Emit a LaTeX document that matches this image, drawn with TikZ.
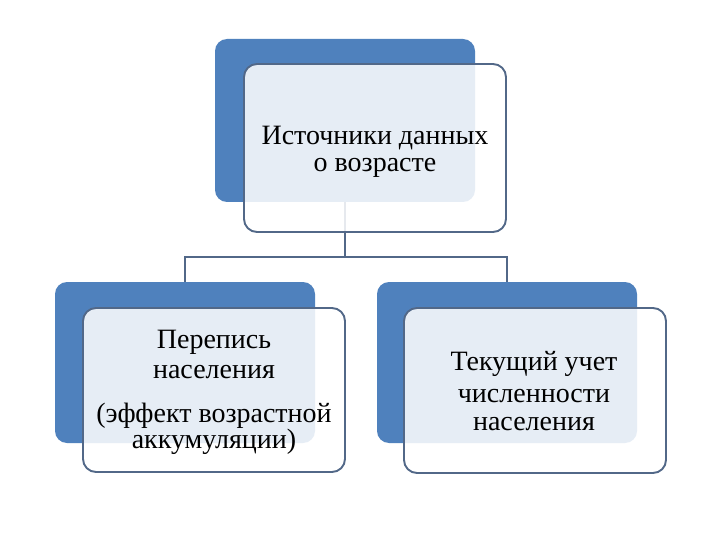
\documentclass[tikz,border=0pt]{standalone}
\usepackage{fontspec}
\setmainfont{Liberation Serif}
\definecolor{sblue}{RGB}{79,129,189}
\definecolor{sborder}{RGB}{82,104,136}
\begin{document}
\begin{tikzpicture}[x=1pt,y=-1pt]
\tikzset{
  back/.style={rectangle, fill=sblue, draw=none, rounded corners=12pt, inner sep=0pt, outer sep=0pt},
  front/.style={rectangle, fill=white, fill opacity=0.86, draw=sborder, draw opacity=1, line width=1.9pt, rounded corners=13pt, inner sep=0pt, outer sep=0pt},
  conn/.style={draw=sborder, line width=1.9pt},
  lbl/.style={font=\fontsize{28}{30}\selectfont, anchor=base, inner sep=0pt, text=black}
}
\useasboundingbox (0,0) rectangle (720,540);
\fill[white] (0,0) rectangle (720,540);
% back boxes
\node[back, minimum width=260pt, minimum height=163pt] (tb) at (345,120.5) {};
\node[back, minimum width=260pt, minimum height=161pt] (lb) at (185,362.5) {};
\node[back, minimum width=260pt, minimum height=161pt] (rb) at (507,362.5) {};
% connectors
\coordinate (j) at (345,257);
\draw[conn] (tb.south) -- (j);
\draw[conn] (j) -| (lb.north);
\draw[conn] (j) -| (rb.north);
% front boxes
\node[front, minimum width=262pt, minimum height=168pt] (tf) at (375,148) {};
\node[front, minimum width=262pt, minimum height=164pt] (lf) at (214,390) {};
\node[front, minimum width=262pt, minimum height=165pt] (rf) at (535,390.5) {};
% texts
\node[lbl] (t1) at (375,145) {Источники данных};
\node[lbl] (t2) at (375,172) {о возрасте};
\node[lbl] (l1) at (214,348) {Перепись};
\node[lbl] (l2) at (214,378) {населения};
\node[lbl] (l3) at (214,422) {(эффект возрастной};
\node[lbl] (l4) at (214,448) {аккумуляции)};
\node[lbl] (r1) at (534,370) {Текущий учет};
\node[lbl] (r2) at (534,402) {численности};
\node[lbl] (r3) at (534,430) {населения};
\end{tikzpicture}
\end{document}
